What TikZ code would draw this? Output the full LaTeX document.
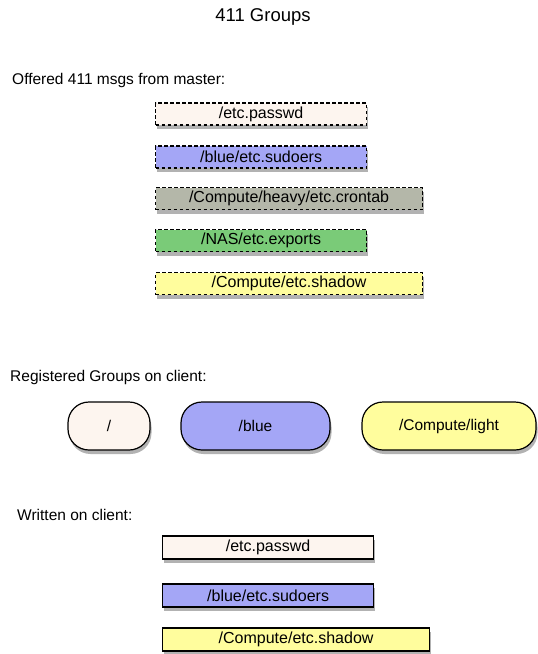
\documentclass[tikz,border=0pt]{standalone}
\usepackage{fontspec}
\setmainfont{Liberation Sans}
\usetikzlibrary{shadows}

\definecolor{rootcol}{HTML}{FDF5EF}
\definecolor{bluecol}{HTML}{A4A6F6}
\definecolor{heavycol}{HTML}{B4B7A9}
\definecolor{nascol}{HTML}{7ACB78}
\definecolor{lightcol}{HTML}{FFFD9D}

\begin{document}
\begin{tikzpicture}[x=1pt,y=-1pt,font=\fontsize{15.5}{18}\selectfont,
    shade/.style={drop shadow={shadow xshift=1.5pt,shadow yshift=-4pt,opacity=.3,fill=black}},
    msg/.style={draw,dash pattern=on 3.5pt off 2.5pt,line width=1.2pt,anchor=west,
      minimum height=22pt,inner sep=0pt,font=\fontsize{16}{18}\selectfont,shade},
    file/.style={draw,line width=1.2pt,anchor=west,minimum height=23pt,inner sep=0pt,
      font=\fontsize{16}{18}\selectfont,shade},
    grp/.style={draw,line width=1.2pt,rounded corners=21pt,minimum height=48pt,
      inner sep=0pt,shade},
    hdr/.style={anchor=base west,inner sep=0pt}]

  \useasboundingbox (0,0) rectangle (538,654);

  \node[anchor=base,inner sep=0pt,font=\fontsize{18.5}{21}\selectfont] (title) at (263,21) {411 Groups};

  % offered by the master
  \node[hdr] (offered) at (12,84) {Offered 411 msgs from master:};
  \node[msg,fill=rootcol,minimum width=211pt] (m1) at (155,114) {/etc.passwd};
  \node[msg,fill=bluecol,minimum width=211pt] (m2) at (155,157) {/blue/etc.sudoers};
  \node[msg,fill=heavycol,minimum width=267pt] (m3) at (155,198.5) {/Compute/heavy/etc.crontab};
  \node[msg,fill=nascol,minimum width=211pt] (m4) at (155,240.5) {/NAS/etc.exports};
  \node[msg,fill=lightcol,minimum width=267pt] (m5) at (155,283.5) {/Compute/etc.shadow};

  % groups of the client
  \node[hdr] (registered) at (10,381) {Registered Groups on client:};
  \node[grp,fill=rootcol,minimum width=82pt] (g1) at (109,426) {/};
  \node[grp,fill=bluecol,minimum width=149pt] (g2) at (255.5,426) {/blue};
  \node[grp,fill=lightcol,minimum width=174pt] (g3) at (449,426) {/Compute/light};

  % written
  \node[hdr] (written) at (17,520) {Written on client:};
  \node[file,fill=rootcol,minimum width=211pt] (f1) at (162,547.5) {/etc.passwd};
  \node[file,fill=bluecol,minimum width=211pt] (f2) at (162,595.5) {/blue/etc.sudoers};
  \node[file,fill=lightcol,minimum width=267pt] (f3) at (162,639.5) {/Compute/etc.shadow};

\end{tikzpicture}
\end{document}
